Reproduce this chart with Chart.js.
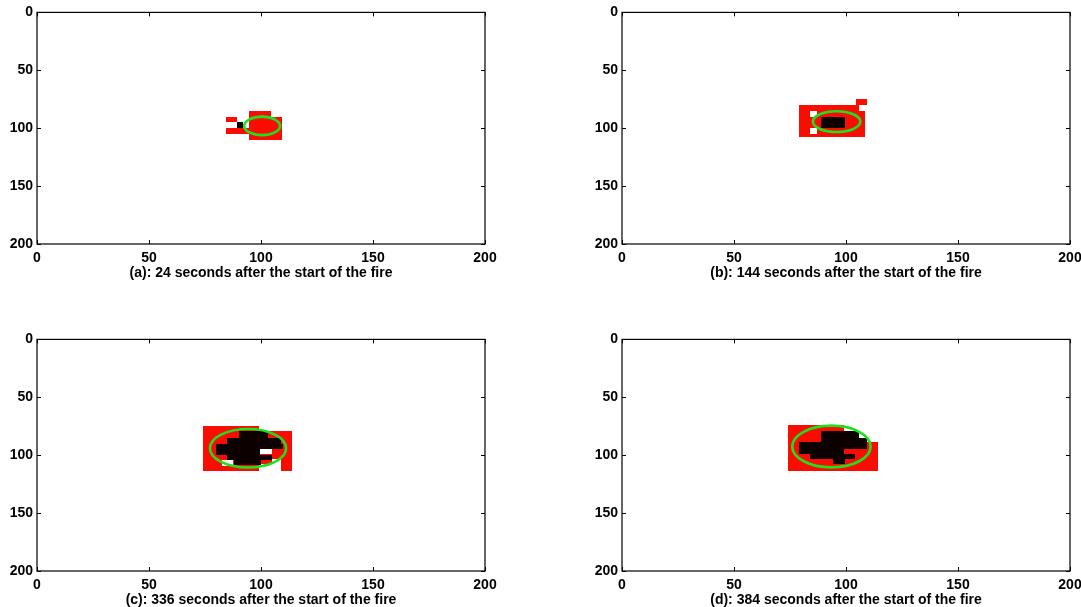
<!DOCTYPE html>
<html lang="en">
<head>
    <meta charset="UTF-8">
    <title>Fire spread</title>
    <style>
        body { margin: 0; background: #fff; width: 1081px; height: 607px; position: relative; overflow: hidden; }
        .painel { position: absolute; }
    </style>
</head>
<body>
    <div class="painel" style="left:0;top:0"><canvas id="chartA" width="540" height="282"></canvas></div>
    <div class="painel" style="left:585px;top:0"><canvas id="chartB" width="540" height="282"></canvas></div>
    <div class="painel" style="left:0;top:327px"><canvas id="chartC" width="540" height="282"></canvas></div>
    <div class="painel" style="left:585px;top:327px"><canvas id="chartD" width="540" height="282"></canvas></div>

<script src="https://cdn.jsdelivr.net/npm/chart.js"></script>
<script>
    // axes
    const xTicks = [0, 50, 100, 150, 200];
    const yTicks = [0, 50, 100, 150, 200];

    const captions = [
        '(a): 24 seconds after the start of the fire',
        '(b): 144 seconds after the start of the fire',
        '(c): 336 seconds after the start of the fire',
        '(d): 384 seconds after the start of the fire'
    ];

    // cells as [x0, x1, y0, y1] in grid units
    const redA = [[94.5, 104.5, 85, 90], [94.5, 109.5, 90, 110], [84.5, 89.5, 90, 95], [84.5, 94.5, 100, 105]];
    const whiteA = [];
    const blackA = [[89.5, 92, 95, 100]];
    const ellipseA = [100.5, 98, 8, 8]; // cx, cy, rx, ry

    const redB = [[79, 108.5, 80, 107.5], [104.5, 109.5, 75, 80]];
    const whiteB = [[106, 108.5, 80, 85], [84, 87, 85, 90], [84, 87, 100, 105]];
    const blackB = [[89, 99.5, 90, 100]];
    const ellipseB = [95.8, 94.3, 10.6, 9];

    const redC = [[74, 99, 74.5, 113.5], [99, 114, 79, 107.5], [109, 114, 107.5, 113.5]];
    const whiteC = [[99.5, 105, 95, 99], [105, 109, 103, 107.5], [82.5, 87.5, 104, 109]];
    const blackC = [[90, 103, 79, 85], [85, 109, 85, 90], [80, 110, 90, 95], [80, 99.5, 95, 100], [85, 105, 100, 104], [88, 100, 104, 108.5]];
    const ellipseC = [94.2, 94, 17, 16.6];

    const redD = [[74, 99, 74, 113.5], [99, 114.5, 89, 113.5]];
    const whiteD = [];
    const blackD = [[89, 106, 79, 85], [89, 109.5, 85, 89], [79, 109.5, 89, 94.5], [79, 99, 94.5, 99], [84, 104, 99, 103.5], [94, 99.5, 103.5, 108]];
    const ellipseD = [93.5, 92.5, 17.5, 18];

    const painéis = [
        { id: 'chartA', red: redA, white: whiteA, black: blackA, ellipse: ellipseA, caption: captions[0] },
        { id: 'chartB', red: redB, white: whiteB, black: blackB, ellipse: ellipseB, caption: captions[1] },
        { id: 'chartC', red: redC, white: whiteC, black: blackC, ellipse: ellipseC, caption: captions[2] },
        { id: 'chartD', red: redD, white: whiteD, black: blackD, ellipse: ellipseD, caption: captions[3] }
    ];

    const fonte = { family: "'Liberation Sans', Arial, sans-serif", size: 14, weight: 'bold' };

    function firePlugin(p) {
        return {
            id: 'fire',
            beforeDatasetsDraw(chart) {
                const { ctx, chartArea, scales: { x, y } } = chart;
                ctx.save();
                ctx.beginPath();
                ctx.rect(chartArea.left, chartArea.top, chartArea.width, chartArea.height);
                ctx.clip();

                function fillCells(cells, color) {
                    ctx.fillStyle = color;
                    cells.forEach(function (c) {
                        const x0 = Math.round(x.getPixelForValue(c[0])), x1 = Math.round(x.getPixelForValue(c[1]));
                        const y0 = Math.round(y.getPixelForValue(c[2])), y1 = Math.round(y.getPixelForValue(c[3]));
                        ctx.fillRect(Math.min(x0, x1), Math.min(y0, y1), Math.abs(x1 - x0), Math.abs(y1 - y0));
                    });
                }
                fillCells(p.red, 'rgb(250, 12, 0)');
                fillCells(p.white, '#ffffff');
                fillCells(p.black, 'rgb(12, 0, 0)');

                const e = p.ellipse;
                const cx = x.getPixelForValue(e[0]), cy = y.getPixelForValue(e[1]);
                const rx = Math.abs(x.getPixelForValue(e[0] + e[2]) - cx);
                const ry = Math.abs(y.getPixelForValue(e[1] + e[3]) - cy);
                ctx.beginPath();
                ctx.ellipse(cx, cy, rx, ry, 0, 0, 2 * Math.PI);
                ctx.strokeStyle = 'rgb(30, 225, 30)';
                ctx.lineWidth = 2.6;
                ctx.stroke();
                ctx.restore();
            },
            afterDraw(chart) {
                const { ctx, chartArea, scales: { x, y } } = chart;
                ctx.save();
                ctx.strokeStyle = '#000';
                ctx.lineWidth = 1.2;
                ctx.strokeRect(chartArea.left, chartArea.top, chartArea.width, chartArea.height);
                ctx.lineWidth = 1;
                ctx.beginPath();
                xTicks.forEach(function (v) {
                    const px = Math.round(x.getPixelForValue(v)) + 0.5;
                    ctx.moveTo(px, chartArea.bottom);
                    ctx.lineTo(px, chartArea.bottom - 4);
                    ctx.moveTo(px, chartArea.top);
                    ctx.lineTo(px, chartArea.top + 4);
                });
                yTicks.forEach(function (v) {
                    const py = Math.round(y.getPixelForValue(v)) + 0.5;
                    ctx.moveTo(chartArea.left, py);
                    ctx.lineTo(chartArea.left + 4, py);
                    ctx.moveTo(chartArea.right, py);
                    ctx.lineTo(chartArea.right - 4, py);
                });
                ctx.stroke();
                ctx.restore();
            }
        };
    }

    painéis.forEach(function (p) {
        const canvas = document.getElementById(p.id);
        new Chart(canvas, {
            type: 'scatter',
            data: { datasets: [{ data: [] }] },
            options: {
                responsive: false,
                animation: false,
                devicePixelRatio: 1,
                layout: { padding: { top: 12, right: canvas.width - 485, left: 0, bottom: 0 } },
                plugins: { legend: { display: false }, tooltip: { enabled: false } },
                scales: {
                    x: {
                        type: 'linear',
                        min: 0,
                        max: 200,
                        afterBuildTicks: function (s) { s.ticks = xTicks.map(function (v) { return { value: v }; }); },
                        afterFit: function (s) { s.height = 38; },
                        grid: { display: false, drawTicks: false },
                        border: { display: false },
                        ticks: { color: '#000', font: fonte, padding: 6, maxRotation: 0, autoSkip: false },
                        title: { display: true, text: p.caption, color: '#000', font: fonte, padding: { top: 0, bottom: 0 } }
                    },
                    y: {
                        type: 'linear',
                        min: 0,
                        max: 200,
                        reverse: true,
                        afterBuildTicks: function (s) { s.ticks = yTicks.map(function (v) { return { value: v }; }); },
                        afterFit: function (s) { s.width = 37; },
                        grid: { display: false, drawTicks: false },
                        border: { display: false },
                        ticks: { color: '#000', font: fonte, padding: 4, autoSkip: false }
                    }
                }
            },
            plugins: [firePlugin(p)]
        });
    });
</script>
</body>
</html>
